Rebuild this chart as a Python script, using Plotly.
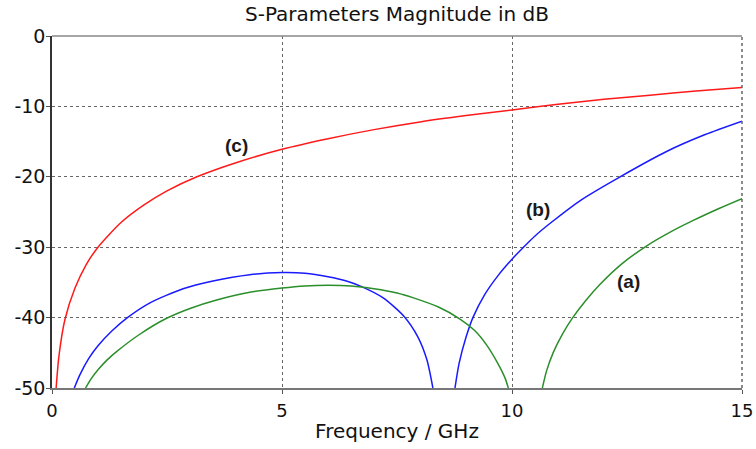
import plotly.graph_objects as go

# Curve (c) - red
c_x = [0.09, 0.15, 0.28, 0.5, 0.75, 1.0, 1.5, 2.0, 2.5, 3.15, 4.0, 5.0, 6.0, 7.0, 8.0, 9.0, 10.0, 11.0, 12.0, 13.0, 14.0, 15.0]
c_y = [-50, -45.5, -40.3, -35.8, -32.4, -30.0, -26.5, -24.0, -22.0, -20.0, -18.0, -16.1, -14.6, -13.3, -12.2, -11.3, -10.5, -9.7, -9.0, -8.4, -7.8, -7.3]

# Curve (b) - blue, two branches
b1_x = [0.485, 0.6, 0.8, 1.0, 1.3, 1.64, 2.13, 2.85, 3.5, 4.3, 5.0, 5.5, 6.0, 6.4, 6.73, 7.2, 7.65, 7.95, 8.15, 8.28]
b1_y = [-50, -48.2, -45.8, -44.0, -41.9, -40.0, -37.9, -35.9, -34.8, -33.9, -33.6, -33.7, -34.2, -34.8, -35.6, -37.2, -39.8, -42.7, -46.0, -50]
b2_x = [8.76, 8.85, 9.0, 9.15, 9.4, 9.7, 10.0, 10.25, 10.5, 10.83, 11.5, 12.35, 13.36, 14.2, 15.0]
b2_y = [-50, -46.5, -42.8, -40.0, -36.8, -34.0, -31.7, -30.0, -28.4, -26.6, -23.3, -20.0, -16.4, -14.0, -12.1]

# Curve (a) - green, two branches
a1_x = [0.73, 0.85, 1.0, 1.2, 1.41, 1.9, 2.46, 3.0, 3.58, 4.3, 5.0, 5.5, 6.0, 6.5, 7.0, 7.5, 7.86, 8.4, 8.87, 9.2, 9.45, 9.7, 9.85, 9.92]
a1_y = [-50, -48.7, -47.4, -46.0, -44.8, -42.4, -40.2, -38.7, -37.5, -36.4, -35.8, -35.5, -35.4, -35.5, -35.9, -36.5, -37.2, -38.5, -40.2, -41.9, -43.9, -46.6, -48.6, -50]
a2_x = [10.66, 10.75, 10.9, 11.1, 11.32, 11.6, 11.91, 12.4, 12.93, 13.4, 13.94, 14.5, 15.0]
a2_y = [-50, -47.6, -44.9, -42.3, -40.0, -37.6, -35.3, -32.3, -29.8, -28.0, -26.2, -24.5, -23.1]

labels = ["(a)", "(b)", "(c)"]
label_x = [12.54, 10.57, 4.02]
label_y = [-34.9, -24.7, -15.6]

x_ticks = [0, 5, 10, 15]
y_ticks = [0, -10, -20, -30, -40, -50]

RED = "#ff1a1a"
BLUE = "#1a1aff"
GREEN = "#2a8f2a"

fig = go.Figure()
for xs, ys, col in [(c_x, c_y, RED), (b1_x, b1_y, BLUE), (b2_x, b2_y, BLUE),
                    (a1_x, a1_y, GREEN), (a2_x, a2_y, GREEN)]:
    fig.add_trace(go.Scatter(x=xs, y=ys, mode="lines",
                             line=dict(color=col, width=1.5, shape="spline", smoothing=0.7),
                             hoverinfo="skip", showlegend=False))

for t, lx, ly in zip(labels, label_x, label_y):
    fig.add_annotation(x=lx, y=ly, text="<b>" + t + "</b>", showarrow=False,
                       font=dict(family="Liberation Sans, Arial", size=19, color="#1a1a1a"))

fig.update_layout(
    width=756, height=449,
    margin=dict(l=52, r=14, t=36, b=61, autoexpand=False),
    paper_bgcolor="white", plot_bgcolor="white",
    font=dict(family="DejaVu Sans, Verdana", size=17, color="#111111"),
    title=dict(text="S-Parameters Magnitude in dB", x=0.5, xref="paper", xanchor="center",
               y=1 - 14 / 449, yref="container", yanchor="middle", font=dict(size=20)),
    showlegend=False,
)
fig.update_xaxes(range=[0, 15], tickvals=x_ticks, ticktext=[str(v) for v in x_ticks],
                 showgrid=True, gridcolor="#666666", griddash="dot", gridwidth=1,
                 showline=True, linecolor="#777777", linewidth=1.5,
                 ticks="outside", ticklen=4, tickcolor="#555555",
                 zeroline=False, automargin=False, ticklabelstandoff=2,
                 title=dict(text="Frequency / GHz", standoff=4, font=dict(size=20)),
                 tickfont=dict(size=18))
fig.update_yaxes(range=[-50, 0], tickvals=y_ticks, ticktext=[str(v) for v in y_ticks],
                 showgrid=True, gridcolor="#666666", griddash="dot", gridwidth=1,
                 showline=True, linecolor="#333333", linewidth=1.5,
                 ticks="outside", ticklen=4, tickcolor="#555555",
                 zeroline=False, automargin=False, ticklabelstandoff=-3,
                 tickfont=dict(size=19))
# top solid border and right dotted border
fig.add_shape(type="line", xref="paper", yref="paper", x0=0, x1=1, y0=1, y1=1,
              line=dict(color="#888888", width=1.5))
fig.add_shape(type="line", xref="paper", yref="paper", x0=1, x1=1, y0=0, y1=1,
              line=dict(color="#666666", width=1.5, dash="dot"))

fig.write_html("out.html", config={"displayModeBar": False},
               post_script="document.body.style.margin='0';")
